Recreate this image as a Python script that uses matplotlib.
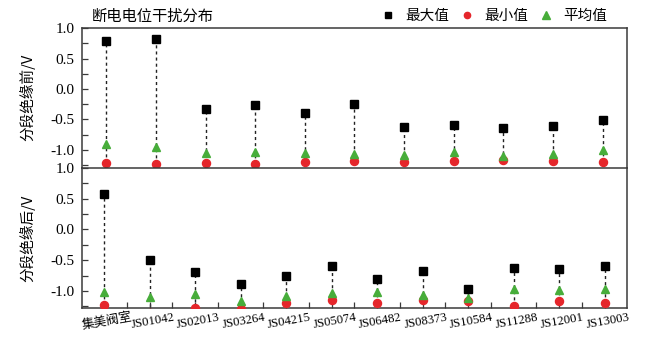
import matplotlib.pyplot as plt
import matplotlib.transforms as mtransforms
from matplotlib.lines import Line2D
from matplotlib.ticker import MultipleLocator, FixedLocator

plt.rcParams['font.family'] = ['Liberation Serif', 'Noto Sans CJK SC', 'DejaVu Sans']
plt.rcParams['axes.unicode_minus'] = False

# before sectional insulation (11 stations, labels not shown in the figure)
before_max = [0.79, 0.82, -0.33, -0.26, -0.40, -0.25, -0.62, -0.59, -0.65, -0.61, -0.51]
before_mean = [-0.90, -0.95, -1.05, -1.04, -1.05, -1.07, -1.08, -1.04, -1.10, -1.07, -1.01]
before_min = [-1.22, -1.23, -1.22, -1.23, -1.20, -1.19, -1.20, -1.18, -1.17, -1.19, -1.20]

# after sectional insulation
stations = ['集美阀室', 'JS01042', 'JS02013', 'JS03264', 'JS04215', 'JS05074',
            'JS06482', 'JS08373', 'JS10584', 'JS11288', 'JS12001', 'JS13003']
after_max = [0.58, -0.49, -0.69, -0.88, -0.76, -0.60, -0.81, -0.67, -0.97, -0.62, -0.64, -0.59]
after_mean = [-1.02, -1.10, -1.05, -1.16, -1.08, -1.03, -1.01, -1.06, -1.11, -0.97, -0.99, -0.97]
after_min = [-1.23, -1.36, -1.28, -1.30, -1.20, -1.14, -1.19, -1.15, -1.17, -1.24, -1.16, -1.19]

RED = '#e5262b'
GREEN = '#47ad3a'
SPINE = '#3a3a3a'
CJK = ['Noto Sans CJK SC', 'DejaVu Sans']

fig = plt.figure(figsize=(6.47, 3.55), dpi=100)
ax1 = fig.add_axes([0.126, 0.527, 0.8436, 0.395])
ax2 = fig.add_axes([0.126, 0.131, 0.8436, 0.396])


def draw(ax, vmax, vmean, vmin):
    x = list(range(len(vmax)))
    ax.vlines(x, vmin, vmax, colors='#222222', linestyles=(0, (2.2, 2.2)), linewidth=1.0, zorder=1)
    ax.plot(x, vmin, 'o', color=RED, ms=5.8, mec=RED, zorder=3)
    ax.plot(x, vmean, '^', color=GREEN, ms=6.2, mec=GREEN, zorder=4)
    ax.plot(x, vmax, 's', color='black', ms=5.3, zorder=5)
    ax.set_xlim(-0.5, len(vmax) - 0.5)
    ax.set_yticks([1.0, 0.5, 0.0, -0.5, -1.0])
    ax.set_yticklabels(['1.0', '0.5', '0.0', '-0.5', '-1.0'])
    ax.yaxis.set_minor_locator(MultipleLocator(0.25))
    ax.tick_params(axis='y', which='both', direction='in', length=4, width=0.9,
                   color=SPINE, labelsize=11, pad=5)
    for s in ax.spines.values():
        s.set_color(SPINE)
        s.set_linewidth(1.1)


draw(ax1, before_max, before_mean, before_min)
ax1.set_ylim(-1.30, 1.01)
ax1.set_xticks([])
ax1.tick_params(axis='x', which='both', bottom=False, labelbottom=False)
ax1.spines['bottom'].set_visible(False)
ax1.set_ylabel('分段绝缘前/V', family=CJK, fontsize=10.5)

draw(ax2, after_max, after_mean, after_min)
ax2.set_ylim(-1.285, 1.0)
ax2.set_xticks(range(len(stations)))
ax2.xaxis.set_minor_locator(FixedLocator([i + 0.5 for i in range(len(stations) - 1)]))
ax2.tick_params(axis='x', which='major', direction='in', length=4, width=0.9, color=SPINE, pad=9)
ax2.tick_params(axis='x', which='minor', direction='in', length=4, width=0.9, color=SPINE)
ax2.set_xticklabels(stations, rotation=10, fontsize=9.2, ha='center', va='center',
                    rotation_mode='anchor')
shift = mtransforms.ScaledTranslation(3 / 100, 0, fig.dpi_scale_trans)
for lab in ax2.get_xticklabels():
    lab.set_transform(lab.get_transform() + shift)
ax2.set_ylabel('分段绝缘后/V', family=CJK, fontsize=10.5)
ax1.yaxis.set_label_coords(-0.084, 0.5)
ax2.yaxis.set_label_coords(-0.084, 0.5)

fig.text(0.142, 0.955, '断电电位干扰分布', family=CJK, fontsize=11, va='center', ha='left')

handles = [
    Line2D([], [], ls='none', marker='s', color='black', ms=4.5),
    Line2D([], [], ls='none', marker='o', color=RED, ms=4.5),
    Line2D([], [], ls='none', marker='^', color=GREEN, ms=5.5),
]
fig.legend(handles, ['最大值', '最小值', '平均值'], loc='center right',
           bbox_to_anchor=(0.95, 0.955), ncol=3, frameon=False,
           prop={'family': CJK, 'size': 10.5}, handlelength=1.2,
           handletextpad=0.6, columnspacing=0.6, borderpad=0)

fig.savefig('out.png', dpi=100)
